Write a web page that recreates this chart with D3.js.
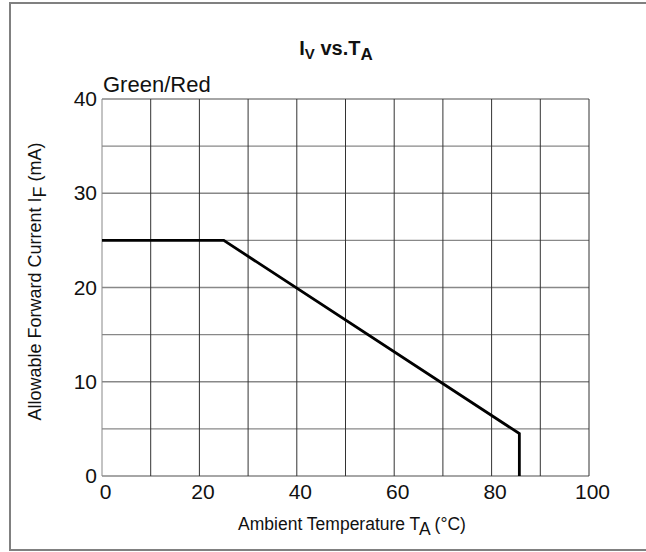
<!DOCTYPE html>
<html>
<head>
<meta charset="utf-8">
<script src="https://cdn.jsdelivr.net/npm/d3@7"></script>
<style>
  body { margin: 0; background: #fff; }
  text { font-family: "Liberation Sans", Arial, sans-serif; fill: #111; }
</style>
</head>
<body>
<script>
// derating curve for the Green/Red part
let tempC = [0, 25, 85.7, 85.7],
    currentMA = [25, 25, 4.5, 0],
    xTicks = [0, 20, 40, 60, 80, 100],
    yTicks = [0, 10, 20, 30, 40],
    xGrid = d3.range(0, 101, 10),
    yGrid = d3.range(0, 41, 5);

let width = 646,
    height = 552,
    margin = {top: 99, left: 102, right: 57, bottom: 76},
    darkGrid = '#333',
    lightGrid = '#888',
    font = '"Liberation Sans", Arial, sans-serif';

let svg = d3.select('body').append('svg')
    .attr('width', width)
    .attr('height', height);

// outer frame, runs off the right edge like the scan
svg.append('rect')
    .attr('x', 10).attr('y', 3)
    .attr('width', 645).attr('height', 547)
    .attr('fill', 'none')
    .attr('stroke', '#808080')
    .attr('stroke-width', 2);

let x = d3.scaleLinear().domain([0, 100]).range([margin.left, width - margin.right]);
let y = d3.scaleLinear().domain([0, 40]).range([height - margin.bottom, margin.top]);

let grid = svg.append('g');

// horizontal grid
grid.selectAll('line.h')
    .data(yGrid)
    .enter()
    .append('line')
    .attr('class', 'h')
    .attr('x1', x(0)).attr('x2', x(100))
    .attr('y1', d => y(d)).attr('y2', d => y(d))
    .attr('stroke', lightGrid)
    .attr('stroke-width', 1.3);

// vertical grid
grid.selectAll('line.v')
    .data(xGrid)
    .enter()
    .append('line')
    .attr('class', 'v')
    .attr('x1', d => x(d)).attr('x2', d => x(d))
    .attr('y1', y(0)).attr('y2', y(40))
    .attr('stroke', d => d == 0 ? lightGrid : darkGrid)
    .attr('stroke-width', 1);

// axes (labels only, grid draws the lines)
let xAxis = svg.append('g')
    .attr('transform', `translate(0,${y(0)})`)
    .call(d3.axisBottom(x).tickValues(xTicks).tickSize(0).tickPadding(8));
xAxis.select('.domain').remove();
xAxis.selectAll('text')
    .attr('dx', 3)
    .style('font-size', '21px')
    .style('font-family', font)
    .attr('fill', '#111');

let yAxis = svg.append('g')
    .attr('transform', `translate(${x(0)},0)`)
    .call(d3.axisLeft(y).tickValues(yTicks).tickSize(0).tickPadding(5));
yAxis.select('.domain').remove();
yAxis.selectAll('text')
    .style('font-size', '21px')
    .style('font-family', font)
    .attr('fill', '#111');

// curve
let line = d3.line()
    .x((d, i) => x(tempC[i]))
    .y(d => y(d));

svg.append('path')
    .attr('d', line(currentMA))
    .attr('fill', 'none')
    .attr('stroke', '#000')
    .attr('stroke-width', 2.8)
    .attr('stroke-linejoin', 'miter');

// title
let title = svg.append('text')
    .attr('x', 336).attr('y', 55)
    .attr('text-anchor', 'middle')
    .style('font-size', '20px')
    .style('font-weight', 'bold');
title.append('tspan').text('I');
title.append('tspan').attr('dy', 4).style('font-size', '15px').text('V');
title.append('tspan').attr('dy', -4).text(' vs.T');
title.append('tspan').attr('dy', 5).style('font-size', '17px').text('A');

svg.append('text')
    .attr('x', 103).attr('y', 92)
    .style('font-size', '22px')
    .text('Green/Red');

// x axis title
let xt = svg.append('text')
    .attr('x', 352).attr('y', 530)
    .attr('text-anchor', 'middle')
    .style('font-size', '17.5px');
xt.append('tspan').text('Ambient Temperature T');
xt.append('tspan').attr('dy', 5).text('A');
xt.append('tspan').attr('dy', -5).text(' (°C)');

// y axis title
let yt = svg.append('text')
    .attr('transform', `translate(41,${(y(0) + y(40)) / 2 - 6}) rotate(-90)`)
    .attr('text-anchor', 'middle')
    .style('font-size', '18px');
yt.append('tspan').text('Allowable Forward Current I');
yt.append('tspan').attr('dy', 5).text('F');
yt.append('tspan').attr('dy', -5).text(' (mA)');
</script>
</body>
</html>
